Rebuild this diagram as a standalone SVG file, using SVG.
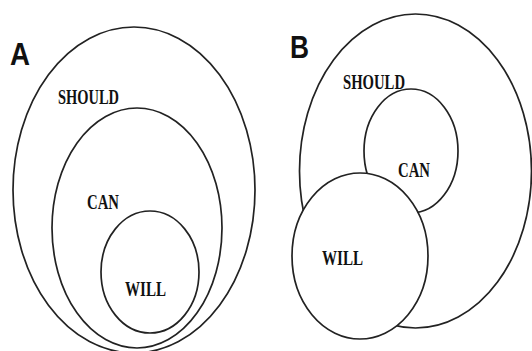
<svg xmlns="http://www.w3.org/2000/svg" width="532" height="351" viewBox="0 0 532 351">
<style>
.e{fill:#fff;stroke:#222;stroke-width:1.7}
.t{font-family:"Liberation Serif","Times New Roman",serif;font-weight:bold;font-size:22px;fill:#111}
.p{font-family:"Liberation Sans",Arial,sans-serif;font-weight:bold;font-size:31px;fill:#111}
</style>
<rect width="532" height="351" fill="#fff"/>
<g id="panelA">
  <text class="p" x="10" y="65" textLength="20" lengthAdjust="spacingAndGlyphs">A</text>
  <g id="A-should">
    <ellipse class="e" cx="134" cy="190" rx="121" ry="163"/>
    <text class="t" x="58" y="104" textLength="61" lengthAdjust="spacingAndGlyphs">SHOULD</text>
  </g>
  <g id="A-can">
    <ellipse class="e" cx="137" cy="228" rx="85" ry="120"/>
    <text class="t" x="87" y="209" textLength="32" lengthAdjust="spacingAndGlyphs">CAN</text>
  </g>
  <g id="A-will">
    <ellipse class="e" cx="150" cy="272" rx="49" ry="61"/>
    <text class="t" x="125" y="296" textLength="41" lengthAdjust="spacingAndGlyphs">WILL</text>
  </g>
</g>
<g id="panelB">
  <text class="p" x="290" y="58" textLength="19" lengthAdjust="spacingAndGlyphs">B</text>
  <g id="B-should">
    <ellipse class="e" cx="415.5" cy="171" rx="116" ry="157"/>
    <text class="t" x="343" y="89" textLength="62" lengthAdjust="spacingAndGlyphs">SHOULD</text>
  </g>
  <g id="B-can">
    <ellipse class="e" cx="411" cy="151" rx="47" ry="62"/>
    <text class="t" x="398" y="177" textLength="32" lengthAdjust="spacingAndGlyphs">CAN</text>
  </g>
  <g id="B-will">
    <ellipse class="e" cx="360" cy="256" rx="68" ry="83"/>
    <text class="t" x="322" y="265" textLength="41" lengthAdjust="spacingAndGlyphs">WILL</text>
  </g>
</g>
<g id="connectors"/>
</svg>
